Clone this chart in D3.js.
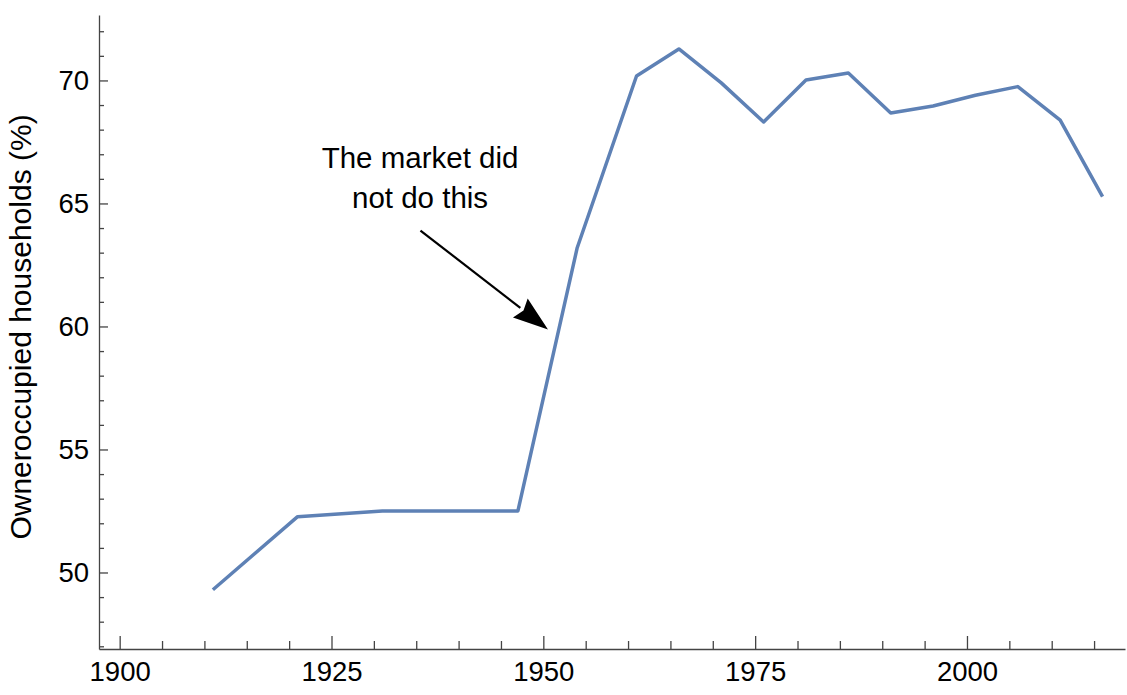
<!DOCTYPE html>
<html lang="en">
  <head>
    <meta charset="UTF-8" />
    <script src="https://d3js.org/d3.v7.min.js"></script>
    <style>
      body {
        margin: 0;
        background: #fff;
      }
      text {
        font-family: "Liberation Sans", Arial, sans-serif;
        fill: #000;
      }
    </style>
  </head>
  <body>
    <div id="chart"></div>
    <script>
      // owner occupied households, % by year
      var years = [1911, 1921, 1931, 1947, 1954, 1961, 1966, 1971, 1976, 1981, 1986, 1991, 1996, 2001, 2006, 2011, 2016];
      var share = [49.3, 52.27, 52.5, 52.5, 63.2, 70.18, 71.28, 69.9, 68.31, 70.02, 70.3, 68.68, 68.96, 69.4, 69.75, 68.39, 65.28];

      var xMajor = [1900, 1925, 1950, 1975, 2000];
      var yMajor = [50, 55, 60, 65, 70];

      var note = ["The market did", "not do this"];

      var width = 1127;
      var height = 695;

      var svg = d3
        .select("#chart")
        .append("svg")
        .attr("width", width)
        .attr("height", height);

      var x = d3.scaleLinear().domain([1897.56, 2018.65]).range([99, 1125]);
      var y = d3.scaleLinear().domain([46.89, 72.66]).range([649, 15]);

      var axisColor = "#444";

      // minor ticks: every 5 years / every 1 point
      var xMinor = d3.range(1900, 2019, 5).filter(function (d) {
        return xMajor.indexOf(d) < 0;
      });
      var yMinor = d3.range(47, 73, 1).filter(function (d) {
        return yMajor.indexOf(d) < 0;
      });

      var gx = svg.append("g").attr("transform", "translate(0," + y.range()[0] + ")");
      gx.call(d3.axisBottom(x).tickValues(xMinor).tickSize(-8).tickSizeOuter(0).tickFormat(""));
      var gx2 = svg.append("g").attr("transform", "translate(0," + y.range()[0] + ")");
      gx2.call(d3.axisBottom(x).tickValues(xMajor).tickSize(-13).tickSizeOuter(0).tickPadding(12).tickFormat(d3.format("d")));
      gx2.select(".domain").remove();

      var gy = svg.append("g").attr("transform", "translate(" + x.range()[0] + ",0)");
      gy.call(d3.axisLeft(y).tickValues(yMinor).tickSize(-5).tickSizeOuter(0).tickFormat(""));
      var gy2 = svg.append("g").attr("transform", "translate(" + x.range()[0] + ",0)");
      gy2.call(d3.axisLeft(y).tickValues(yMajor).tickSize(-9).tickSizeOuter(0).tickPadding(10).tickFormat(d3.format("d")));
      gy2.select(".domain").remove();

      svg.selectAll(".domain, .tick line").attr("stroke", axisColor).attr("stroke-width", 1.3);
      svg.selectAll(".tick text").style("font-size", "27.5px").style("font-family", "'Liberation Sans', Arial, sans-serif").attr("fill", "#000");

      // y axis title
      svg
        .append("text")
        .attr("transform", "translate(31,327) rotate(-90)")
        .attr("text-anchor", "middle")
        .style("font-size", "30px")
        .text("Owneroccupied households (%)");

      // the series
      var pts = years.map(function (d, i) {
        return [d, share[i]];
      });
      var line = d3
        .line()
        .x(function (d) { return x(d[0]); })
        .y(function (d) { return y(d[1]); });

      svg
        .append("path")
        .datum(pts)
        .attr("d", line)
        .attr("fill", "none")
        .attr("stroke", "#5e81b5")
        .attr("stroke-width", 3.5)
        .attr("stroke-linejoin", "round");

      // annotation arrow
      var tail = [x(1935.5), y(63.9)];
      var tip = [x(1950.55), y(59.88)];
      var ang = Math.atan2(tip[1] - tail[1], tip[0] - tail[0]);
      var headLen = 35;
      var headW = 12;
      var base = [tip[0] - headLen * Math.cos(ang), tip[1] - headLen * Math.sin(ang)];

      svg
        .append("line")
        .attr("x1", tail[0])
        .attr("y1", tail[1])
        .attr("x2", base[0])
        .attr("y2", base[1])
        .attr("stroke", "#000")
        .attr("stroke-width", 2.2);

      svg
        .append("path")
        .attr(
          "d",
          "M" + tip[0] + "," + tip[1] +
            "L" + (base[0] + headW * Math.sin(ang)) + "," + (base[1] - headW * Math.cos(ang)) +
            "L" + (base[0] + 4 * Math.cos(ang)) + "," + (base[1] + 4 * Math.sin(ang)) +
            "L" + (base[0] - headW * Math.sin(ang)) + "," + (base[1] + headW * Math.cos(ang)) +
            "Z"
        )
        .attr("fill", "#000");

      svg
        .append("g")
        .selectAll("text")
        .data(note)
        .enter()
        .append("text")
        .attr("x", x(1935.45))
        .attr("y", function (d, i) { return y(66.44) + i * 40; })
        .attr("text-anchor", "middle")
        .style("font-size", "29.5px")
        .text(function (d) { return d; });
    </script>
  </body>
</html>
